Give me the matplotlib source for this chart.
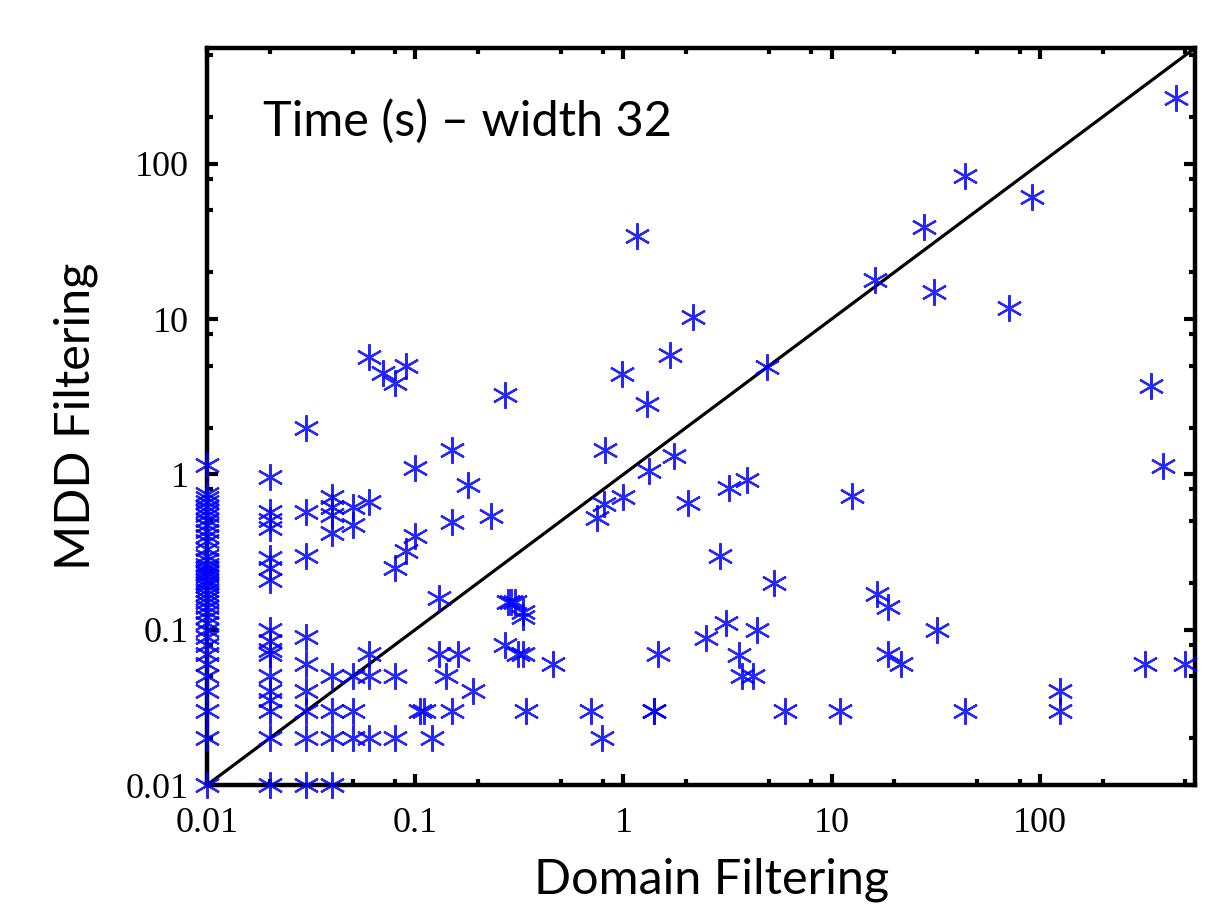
import matplotlib
matplotlib.use("Agg")
import matplotlib.pyplot as plt
from matplotlib.ticker import FixedLocator, FixedFormatter, LogLocator, NullFormatter

# Domain Filtering time (x) vs MDD Filtering time (y), seconds
x_001 = [0.01] * 41
y_001 = [1.15, 0.75, 0.7, 0.66, 0.62, 0.58, 0.55, 0.51, 0.47, 0.43, 0.4, 0.37, 0.33,
         0.3, 0.28, 0.26, 0.25, 0.24, 0.23, 0.22, 0.21, 0.2, 0.19, 0.18, 0.17, 0.16,
         0.15, 0.14, 0.13, 0.12, 0.11, 0.1, 0.09, 0.08, 0.07, 0.06, 0.05, 0.04, 0.03,
         0.02, 0.01]

x_low = [0.02, 0.02, 0.02, 0.02, 0.02, 0.02, 0.02, 0.02, 0.02, 0.02, 0.02, 0.02, 0.02,
         0.02, 0.02, 0.02, 0.02,
         0.03, 0.03, 0.03, 0.03, 0.03, 0.03, 0.03, 0.03, 0.03,
         0.04, 0.04, 0.04, 0.04, 0.04, 0.04, 0.04, 0.04,
         0.05, 0.05, 0.05, 0.05, 0.05,
         0.06, 0.06, 0.06, 0.06, 0.06,
         0.07, 0.08, 0.08, 0.08, 0.08, 0.09, 0.09, 0.1, 0.1,
         0.105, 0.11, 0.12, 0.13, 0.13, 0.14, 0.15, 0.15, 0.15, 0.16, 0.18, 0.19]
y_low = [0.96, 0.57, 0.51, 0.45, 0.29, 0.25, 0.21, 0.1, 0.085, 0.074, 0.07, 0.05, 0.04,
         0.035, 0.03, 0.02, 0.01,
         2.0, 0.57, 0.3, 0.09, 0.06, 0.04, 0.03, 0.02, 0.01,
         0.72, 0.62, 0.55, 0.42, 0.05, 0.03, 0.02, 0.01,
         0.62, 0.47, 0.05, 0.03, 0.02,
         5.7, 0.66, 0.07, 0.05, 0.02,
         4.5, 3.9, 0.25, 0.05, 0.02, 5.0, 0.32, 1.1, 0.4,
         0.03, 0.03, 0.02, 0.16, 0.07, 0.05, 1.44, 0.49, 0.03, 0.07, 0.86, 0.04]

x_mid = [0.23, 0.27, 0.28, 0.29, 0.3, 0.33, 0.33, 0.27, 0.31, 0.33, 0.34, 0.46,
         0.7, 0.75, 0.79, 0.81, 0.82, 0.98, 1.0, 1.16, 1.3, 1.33, 1.4, 1.4, 1.47,
         1.68, 1.75, 2.05, 2.15]
y_mid = [0.54, 3.25, 0.15, 0.15, 0.15, 0.13, 0.12, 0.08, 0.07, 0.07, 0.03, 0.06,
         0.03, 0.52, 0.02, 0.64, 1.44, 4.4, 0.71, 34.0, 2.85, 1.05, 0.03, 0.03, 0.07,
         5.9, 1.32, 0.65, 10.3]

x_high = [2.5, 2.9, 3.1, 3.2, 3.6, 3.7, 3.9, 4.2, 4.4, 4.9, 5.3, 6.0, 11.0, 12.5,
          16.1, 16.5, 18.6, 18.6, 21.5, 27.8, 31.0, 32.0, 43.6, 43.6, 71.0, 91.6,
          125.0, 125.0, 320.0, 340.0, 390.0, 450.0, 500.0]
y_high = [0.088, 0.3, 0.11, 0.82, 0.069, 0.05, 0.92, 0.05, 0.1, 4.9, 0.2, 0.03, 0.03,
          0.73, 17.9, 0.17, 0.14, 0.07, 0.06, 39.0, 15.0, 0.1, 83.7, 0.03, 11.7, 61.0,
          0.04, 0.03, 0.06, 3.7, 1.13, 265.0, 0.06]

xs = x_001 + x_low + x_mid + x_high
ys = y_001 + y_low + y_mid + y_high

lim = [0.01, 556]
major = [0.01, 0.1, 1, 10, 100]
major_labels = ["0.01", "0.1", "1", "10", "100"]

fig = plt.figure(figsize=(12.27, 9.06), dpi=100)
ax = fig.add_axes([207 / 1227, 1 - 785 / 906, 988 / 1227, 737 / 906])

ax.plot(lim, lim, color="black", lw=2.3, zorder=2)
ax.plot(xs, ys, linestyle="none", marker=(6, 2, 0), markersize=19,
        markeredgewidth=1.6, color="#0000ff", alpha=0.85, zorder=3, clip_on=False)

ax.set_xscale("log")
ax.set_yscale("log")
ax.set_xlim(lim)
ax.set_ylim(lim)

for axis in (ax.xaxis, ax.yaxis):
    axis.set_major_locator(FixedLocator(major))
    axis.set_major_formatter(FixedFormatter(major_labels))
    axis.set_minor_locator(LogLocator(base=10, subs=[2, 5, 8]))
    axis.set_minor_formatter(NullFormatter())

for sp in ax.spines.values():
    sp.set_linewidth(3.2)

ax.tick_params(which="both", direction="in", top=True, right=True, width=3)
ax.tick_params(which="major", length=8)
ax.tick_params(which="minor", length=4)
ax.tick_params(axis="x", which="major", pad=16)
ax.tick_params(axis="y", which="major", pad=13)
for lab in ax.get_xticklabels() + ax.get_yticklabels():
    lab.set_fontfamily("Liberation Serif")
    lab.set_fontsize(26)

ax.text(0.057, 0.90, "Time (s) \u2013 width 32", transform=ax.transAxes,
        fontsize=35, family="Lato", va="center", ha="left")
fig.text(712 / 1227, 4 / 906, "Domain Filtering", fontsize=35, family="Lato",
         ha="center", va="bottom")
fig.text(76 / 1227, 1 - 416 / 906, "MDD Filtering", fontsize=35, family="Lato",
         ha="center", va="center", rotation=90)

fig.savefig("out.png", dpi=100)
